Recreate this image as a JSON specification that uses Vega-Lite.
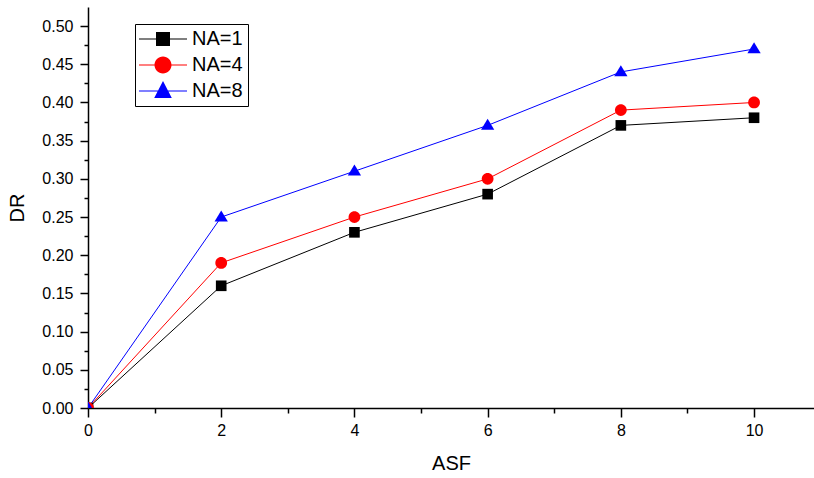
{
  "$schema": "https://vega.github.io/schema/vega-lite/v6.json",
  "width": 726,
  "height": 401,
  "autosize": {"type": "none"},
  "padding": {"left": 88, "top": 7, "right": 0, "bottom": 70},
  "background": "white",
  "config": {
    "view": {"stroke": null},
    "font": "Liberation Sans",
    "axis": {
      "grid": false,
      "domainColor": "black",
      "domainWidth": 1.5,
      "tickColor": "black",
      "tickWidth": 1.5,
      "labelColor": "black",
      "labelFont": "Liberation Sans",
      "labelFontSize": 16,
      "titleFont": "Liberation Sans",
      "titleFontSize": 20,
      "titleFontWeight": "normal",
      "titleColor": "black"
    },
    "legend": {
      "orient": "none",
      "legendX": 47,
      "legendY": 17,
      "title": null,
      "strokeColor": "black",
      "strokeWidth": 1,
      "fillColor": "white",
      "cornerRadius": 0,
      "padding": 5,
      "rowPadding": 6,
      "labelFont": "Liberation Sans",
      "labelFontSize": 20,
      "labelColor": "black",
      "labelOffset": 32,
      "symbolSize": 400,
      "symbolStrokeWidth": 0,
      "symbolOpacity": 1
    }
  },
  "data": {
    "values": [
      {"ASF": 0, "DR": 0.0, "series": "NA=1"},
      {"ASF": 2, "DR": 0.16, "series": "NA=1"},
      {"ASF": 4, "DR": 0.23, "series": "NA=1"},
      {"ASF": 6, "DR": 0.28, "series": "NA=1"},
      {"ASF": 8, "DR": 0.37, "series": "NA=1"},
      {"ASF": 10, "DR": 0.38, "series": "NA=1"},
      {"ASF": 0, "DR": 0.0, "series": "NA=4"},
      {"ASF": 2, "DR": 0.19, "series": "NA=4"},
      {"ASF": 4, "DR": 0.25, "series": "NA=4"},
      {"ASF": 6, "DR": 0.30, "series": "NA=4"},
      {"ASF": 8, "DR": 0.39, "series": "NA=4"},
      {"ASF": 10, "DR": 0.40, "series": "NA=4"},
      {"ASF": 0, "DR": 0.0, "series": "NA=8"},
      {"ASF": 2, "DR": 0.25, "series": "NA=8"},
      {"ASF": 4, "DR": 0.31, "series": "NA=8"},
      {"ASF": 6, "DR": 0.37, "series": "NA=8"},
      {"ASF": 8, "DR": 0.44, "series": "NA=8"},
      {"ASF": 10, "DR": 0.47, "series": "NA=8"}
    ]
  },
  "encoding": {
    "x": {
      "field": "ASF",
      "type": "quantitative",
      "title": "ASF",
      "scale": {"domain": [0, 10.9], "nice": false, "zero": false},
      "axis": {
        "values": [0, 1, 2, 3, 4, 5, 6, 7, 8, 9, 10],
        "labelExpr": "datum.value % 2 === 0 ? format(datum.value, 'd') : ''",
        "tickSize": {"condition": {"test": "datum.value % 2 === 0", "value": 9}, "value": 5},
        "labelPadding": 5,
        "labelFlush": false,
        "titlePadding": 15
      }
    },
    "y": {
      "field": "DR",
      "type": "quantitative",
      "title": "DR",
      "scale": {"domain": [0, 0.525], "nice": false, "zero": false},
      "axis": {
        "values": [0, 0.025, 0.05, 0.075, 0.1, 0.125, 0.15, 0.175, 0.2, 0.225, 0.25, 0.275, 0.3, 0.325, 0.35, 0.375, 0.4, 0.425, 0.45, 0.475, 0.5],
        "labelExpr": "round(datum.value * 40) % 2 === 0 ? format(datum.value, '.2f') : ''",
        "tickSize": {"condition": {"test": "round(datum.value * 40) % 2 === 0", "value": 8}, "value": 4},
        "labelPadding": 7,
        "labelFlush": false,
        "titlePadding": 14
      }
    },
    "color": {
      "field": "series",
      "type": "nominal",
      "scale": {"domain": ["NA=1", "NA=4", "NA=8"], "range": ["#000000", "#ff0000", "#0000ff"]},
      "legend": {
        "encode": {
          "symbols": {
            "update": {
              "shape": {"signal": "datum.value === 'NA=1' ? 'M-1.1,-0.05H0.8V0.05H-1.1Z M1.8,-0.05H3.7V0.05H1.8Z M0.6,-0.7H2V0.7H0.6Z' : datum.value === 'NA=4' ? 'M-1.1,-0.05H0.8V0.05H-1.1Z M1.8,-0.05H3.7V0.05H1.8Z M2.15,0A0.85,0.85 0 1,1 0.45,0A0.85,0.85 0 1,1 2.15,0Z' : 'M-1.1,-0.05H0.8V0.05H-1.1Z M1.8,-0.05H3.7V0.05H1.8Z M1.3,-1L2.18,0.7H0.42Z'"},
              "size": {"value": 400},
              "fill": {"scale": "color", "field": "value"},
              "opacity": {"value": 1},
              "strokeWidth": {"value": 0}
            }
          }
        }
      }
    }
  },
  "layer": [
    {
      "mark": {"type": "line", "strokeWidth": 1, "clip": true}
    },
    {
      "transform": [{"filter": "datum.series === 'NA=1'"}],
      "mark": {"type": "point", "filled": true, "opacity": 1, "clip": true, "size": 196, "shape": "M-0.76,-0.76H0.76V0.76H-0.76Z"}
    },
    {
      "transform": [{"filter": "datum.series === 'NA=4'"}],
      "mark": {"type": "point", "filled": true, "opacity": 1, "clip": true, "size": 196, "shape": "M0.84,0A0.84,0.84 0 1,1 -0.84,0A0.84,0.84 0 1,1 0.84,0Z"}
    },
    {
      "transform": [{"filter": "datum.series === 'NA=8'"}],
      "mark": {"type": "point", "filled": true, "opacity": 1, "clip": true, "size": 196, "shape": "M0,-0.95L0.95,0.62H-0.95Z"}
    }
  ]
}
